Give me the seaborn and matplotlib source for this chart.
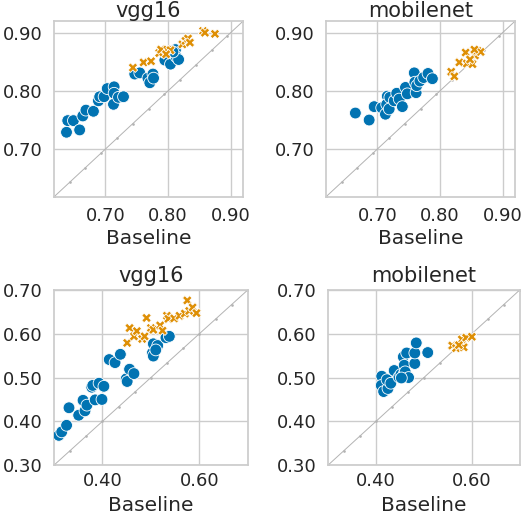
import numpy as np
import pandas as pd
import seaborn as sns
import matplotlib
matplotlib.use('Agg')
import matplotlib.pyplot as plt
from matplotlib.ticker import FormatStrFormatter

sns.set_theme(style='whitegrid')
plt.rcParams['font.family'] = ['DejaVu Sans']

# top row: vgg16 / mobilenet, bottom row: vgg16 / mobilenet
tl_base_a = [0.638, 0.640, 0.649, 0.659, 0.664, 0.669, 0.681, 0.689, 0.691, 0.698, 0.703, 0.714, 0.714, 0.713,
             0.721, 0.729, 0.747, 0.755, 0.768, 0.771, 0.776, 0.777, 0.795, 0.804, 0.812, 0.813, 0.817, 0.808]
tl_ours_a = [0.729, 0.749, 0.749, 0.733, 0.757, 0.767, 0.765, 0.783, 0.790, 0.790, 0.804, 0.807, 0.796, 0.777,
             0.789, 0.790, 0.829, 0.831, 0.822, 0.814, 0.829, 0.822, 0.853, 0.846, 0.871, 0.859, 0.854, 0.867]
tl_base_b = [0.744, 0.761, 0.773, 0.786, 0.789, 0.799, 0.804, 0.823, 0.828, 0.832, 0.835, 0.856, 0.859, 0.875, 0.797]
tl_ours_b = [0.840, 0.849, 0.851, 0.865, 0.871, 0.871, 0.870, 0.880, 0.886, 0.890, 0.883, 0.903, 0.900, 0.898, 0.863]

tr_base_a = [0.665, 0.687, 0.695, 0.707, 0.713, 0.716, 0.715, 0.720, 0.719, 0.727, 0.731, 0.735, 0.740, 0.745,
             0.748, 0.759, 0.760, 0.762, 0.763, 0.768, 0.774, 0.781, 0.788]
tr_ours_a = [0.762, 0.750, 0.773, 0.771, 0.760, 0.791, 0.777, 0.789, 0.769, 0.783, 0.796, 0.786, 0.773, 0.806,
             0.795, 0.831, 0.815, 0.797, 0.809, 0.817, 0.823, 0.830, 0.821]
tr_base_b = [0.818, 0.823, 0.831, 0.841, 0.843, 0.852, 0.856, 0.860, 0.865, 0.855, 0.848]
tr_ours_b = [0.833, 0.825, 0.849, 0.866, 0.847, 0.846, 0.861, 0.869, 0.867, 0.871, 0.854]

bl_base_a = [0.310, 0.316, 0.326, 0.331, 0.351, 0.360, 0.364, 0.368, 0.378, 0.380, 0.385, 0.393, 0.399, 0.403,
             0.414, 0.426, 0.437, 0.449, 0.451, 0.456, 0.465, 0.503, 0.505, 0.505, 0.514, 0.510, 0.531, 0.538]
bl_ours_a = [0.368, 0.376, 0.391, 0.431, 0.414, 0.448, 0.424, 0.437, 0.478, 0.482, 0.449, 0.487, 0.450, 0.480,
             0.541, 0.534, 0.553, 0.497, 0.491, 0.519, 0.509, 0.556, 0.577, 0.549, 0.573, 0.563, 0.591, 0.594]
bl_base_b = [0.451, 0.456, 0.465, 0.471, 0.482, 0.487, 0.491, 0.500, 0.505, 0.519, 0.524, 0.533, 0.536, 0.548,
             0.559, 0.570, 0.575, 0.579, 0.586, 0.594]
bl_ours_b = [0.579, 0.613, 0.594, 0.606, 0.588, 0.594, 0.636, 0.613, 0.609, 0.619, 0.607, 0.641, 0.634, 0.635,
             0.641, 0.646, 0.676, 0.652, 0.660, 0.647]

br_base_a = [0.412, 0.411, 0.416, 0.425, 0.423, 0.431, 0.438, 0.448, 0.452, 0.457, 0.459, 0.459, 0.464, 0.461,
             0.468, 0.481, 0.481, 0.484, 0.508, 0.453]
br_ours_a = [0.503, 0.482, 0.468, 0.475, 0.495, 0.487, 0.516, 0.501, 0.507, 0.547, 0.528, 0.509, 0.556, 0.513,
             0.500, 0.532, 0.556, 0.579, 0.557, 0.499]
br_base_b = [0.559, 0.567, 0.579, 0.583, 0.588, 0.600, 0.573]
br_ours_b = [0.573, 0.567, 0.587, 0.569, 0.591, 0.593, 0.574]

titles = ['vgg16', 'mobilenet', 'vgg16', 'mobilenet']
panels = [(tl_base_a, tl_ours_a, tl_base_b, tl_ours_b),
          (tr_base_a, tr_ours_a, tr_base_b, tr_ours_b),
          (bl_base_a, bl_ours_a, bl_base_b, bl_ours_b),
          (br_base_a, br_ours_a, br_base_b, br_ours_b)]

pal = sns.color_palette('colorblind')
colors = {'a': pal[0], 'b': pal[1]}

fig = plt.figure(figsize=(5.24, 5.14), dpi=100)
boxes = [[0.103, 0.617, 0.361, 0.342],
         [0.622, 0.617, 0.361, 0.342],
         [0.103, 0.095, 0.370, 0.341],
         [0.626, 0.095, 0.366, 0.341]]

for i, (box, title, p) in enumerate(zip(boxes, titles, panels)):
    ax = fig.add_axes(box)
    df = pd.concat([
        pd.DataFrame({'Baseline': p[0], 'Ours': p[1], 'grp': 'a'}),
        pd.DataFrame({'Baseline': p[2], 'Ours': p[3], 'grp': 'b'}),
    ], ignore_index=True)

    if i < 2:
        lims = (0.618, 0.92)
        xt = [0.70, 0.80, 0.90]
        yt = [0.70, 0.80, 0.90]
    else:
        lims = (0.30, 0.70)
        xt = [0.40, 0.60]
        yt = [0.30, 0.40, 0.50, 0.60, 0.70]

    diag = np.linspace(lims[0], lims[1], 13)
    ax.plot(diag, diag, color='0.7', lw=0.7, marker='o', markersize=0.9, zorder=1)

    sns.scatterplot(data=df, x='Baseline', y='Ours', hue='grp', style='grp', size='grp',
                    palette=colors, markers={'a': 'o', 'b': 'X'}, sizes={'a': 72, 'b': 48},
                    edgecolor='white', linewidth=0.6, legend=False, ax=ax, zorder=3)

    ax.set_xlim(lims)
    ax.set_ylim(lims)
    ax.set_xticks(xt)
    ax.set_yticks(yt)
    ax.xaxis.set_major_formatter(FormatStrFormatter('%.2f'))
    ax.yaxis.set_major_formatter(FormatStrFormatter('%.2f'))
    ax.tick_params(labelsize=13, length=0, colors='0.15')
    ax.tick_params(axis='x', pad=7 if i < 2 else 5)
    ax.tick_params(axis='y', pad=8)
    ax.set_title(title, fontsize=15, pad=3 if i < 2 else 5.5, color='0.15')
    ax.set_xlabel('Baseline', fontsize=14.5, labelpad=3.5 if i < 2 else 4.5, color='0.15')
    ax.set_ylabel('')
    for s in ax.spines.values():
        s.set_color('0.8')

fig.savefig('out.png', dpi=100)
